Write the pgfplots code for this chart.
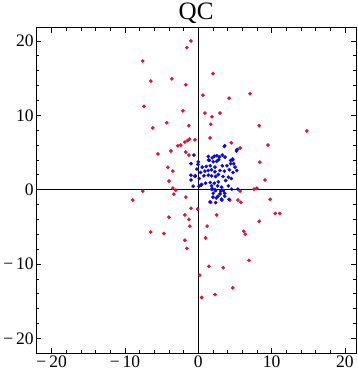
\documentclass[border=0pt]{standalone}
\usepackage{fontspec}
\setmainfont{Liberation Serif}
\usepackage{pgfplots}
\pgfplotsset{compat=1.18}
\definecolor{qcred}{RGB}{220,20,60}
\definecolor{qcblue}{RGB}{10,10,225}

\begin{document}
\begin{tikzpicture}
\begin{axis}[
  scale only axis, width=319pt, height=325pt,
  xmin=-22.1, xmax=21.5, ymin=-22, ymax=21.8,
  xtick={-20,-10,0,10,20}, ytick={-20,-10,0,10,20},
  xticklabels={−\,20,−\,10,0,10,20},
  yticklabels={−\,20,−\,10,0,10,20},
  minor tick num=4,
  tick align=inside,
  major tick length=5pt, minor tick length=3pt,
  tick style={black, line width=0.6pt},
  axis line style={line width=0.8pt},
  tick label style={font=\fontsize{17.5}{17.5}\selectfont},
  xticklabel style={yshift=1pt},
  yticklabel style={xshift=1pt},
  title={QC}, title style={font=\fontsize{25}{25}\selectfont, yshift=-6pt},
  only marks,
]
\draw[line width=0.8pt] (axis cs:0,-22) -- (axis cs:0,21.8);
\draw[line width=0.8pt] (axis cs:-22.1,0) -- (axis cs:21.5,0);

% red points
\addplot[mark=*, mark size=1.65pt, draw=qcred, fill=qcred] table {
x y
-1.0 20.0
-1.56 19.1
-7.57 17.3
-6.47 14.6
-3.6 14.9
-1.7 14.1
2.0 15.6
0.63 12.7
4.2 12.3
7.05 12.9
-7.4 11.2
-2.1 10.6
0.9 10.3
2.95 10.3
1.86 9.8
-4.3 9.0
-1.3 8.6
1.7 8.8
8.3 8.6
-6.2 8.3
14.8 7.9
1.6 6.95
-0.46 6.7
-1.19 6.8
-1.46 6.6
-1.83 6.4
-2.38 6.0
-2.79 5.9
4.5 6.3
9.5 6.0
5.7 5.6
-5.5 4.8
-3.74 5.2
-1.7 5.06
-1.28 4.65
8.4 3.7
-4.15 3.0
-3.47 2.5
9.1 1.3
-4.0 1.15
-3.47 0.2
-3.06 -0.07
-7.57 -0.2
5.7 -0.2
7.6 0.07
8.0 0.2
-3.33 -0.6
-8.93 -1.4
-1.7 -1.0
1.7 -1.7
4.3 -1.4
5.4 -1.4
5.8 -1.7
9.8 -1.3
-1.0 -2.5
-0.1 -2.6
2.5 -3.4
10.5 -3.2
11.1 -3.2
-4.0 -3.7
-1.83 -3.4
-1.28 -4.0
8.3 -4.25
-1.15 -4.9
1.2 -4.9
-6.5 -5.7
-4.7 -5.9
6.2 -5.6
6.4 -6.0
1.0 -6.5
-1.83 -6.8
-1.56 -7.9
6.9 -9.5
1.45 -10.3
3.4 -10.5
0.2 -11.5
4.7 -13.2
2.27 -14.1
0.45 -14.5
};

% blue points
\addplot[mark=*, mark size=1.65pt, draw=qcblue, fill=qcblue] table {
x y
-1.0 3.5
-0.6 4.65
0.0 3.75
-1.0 1.95
-0.46 1.8
-1.0 1.3
-0.7 0.47
0.1 0.47
0.35 0.6
-0.41 1.86
-0.19 2.76
-0.05 3.39
0.13 1.5
0.31 2.31
0.45 0.69
0.54 3.03
0.77 1.86
0.9 2.49
0.99 0.87
1.09 3.12
1.36 4.47
1.36 2.58
1.36 1.95
1.5 3.93
1.63 3.21
1.63 0.96
1.81 2.67
1.81 1.86
1.81 0.51
1.81 0.06
1.9 4.29
2.04 3.75
2.04 -0.48
2.18 0.87
2.27 3.03
2.27 2.4
2.36 1.77
2.36 -0.12
2.45 -1.11
2.54 4.56
2.64 0.51
2.73 1.05
2.73 2.04
2.77 4.02
2.96 2.58
2.96 -0.57
3.18 0.33
3.18 -1.29
3.27 4.65
3.27 3.21
3.36 1.77
3.41 -0.12
3.55 5.82
3.55 2.49
3.59 -0.48
3.64 4.38
3.73 1.23
3.91 3.21
4.1 1.68
4.1 0.51
4.19 -1.29
4.23 2.67
4.41 3.93
4.55 0.06
4.69 4.11
4.73 2.31
4.83 3.48
5.01 3.03
5.24 2.58
5.2 5.2
5.3 5.4
4.7 4.0
3.6 5.9
1.6 -1.65
2.36 -1.74
2.0 -1.0
2.68 -0.88
3.6 -0.88
3.2 -1.4
5.4 0.07
1.95 0.1
2.27 0.0
3.05 -0.2
2.2 4.5
2.9 4.4
1.4 4.0
2.5 3.8
4.5 1.5
4.4 3.5
};
\end{axis}
\end{tikzpicture}
\end{document}
